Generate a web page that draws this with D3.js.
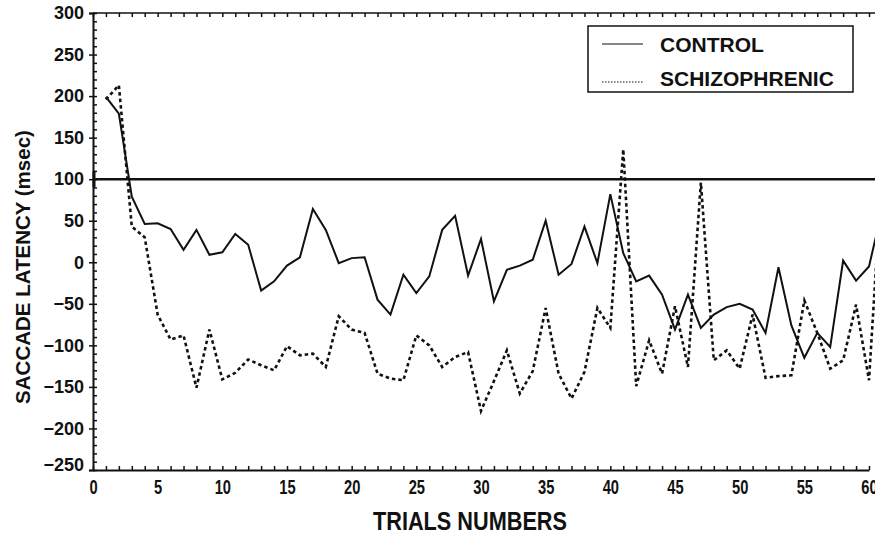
<!DOCTYPE html>
<html>
<head>
<meta charset="utf-8">
<script src="https://cdnjs.cloudflare.com/ajax/libs/d3/7.8.5/d3.min.js"></script>
<style>
  body { margin: 0; background: #fff; }
  svg { display: block; }
  text { fill: #111; font-weight: bold; }
</style>
</head>
<body>
<script>

var trials = d3.range(1, 62);

// trial 61 is only partly visible at the right edge
var control = [199, 179, 79, 46, 47, 40, 15, 39, 9, 12, 34, 21, -34, -23, -4, 6, 64, 39, -1, 5,
               6, -45, -63, -15, -37, -17, 39, 56, -16, 28, -47, -9, -4, 3, 50, -15, -2, 43, -1, 82,
               11, -23, -16, -39, -81, -39, -79, -63, -54, -50, -57, -85, -6, -76, -115, -85, -102, 2, -22, -5,
               62];
var schizo = [196, 213, 43, 30, -63, -93, -88, -151, -81, -141, -133, -117, -124, -130, -101, -112, -110, -126, -65, -81,
              -85, -134, -140, -142, -88, -100, -126, -114, -108, -179, -143, -106, -158, -131, -55, -134, -164, -132, -55, -79,
              136, -149, -94, -134, -53, -126, 96, -118, -106, -128, -63, -139, -137, -136, -46, -85, -128, -118, -51, -142,
              110];

var refLevel = 100;
var xTicks = [0, 5, 10, 15, 20, 25, 30, 35, 40, 45, 50, 55, 60];
var yTicks = [-250, -200, -150, -100, -50, 0, 50, 100, 150, 200, 250, 300];
var seriesNames = ['CONTROL', 'SCHIZOPHRENIC'];

var svgWidth = 875;
var svgHeight = 534;

var svg = d3.select('body').append('svg')
  .attr('width', svgWidth)
  .attr('height', svgHeight);

var x = d3.scaleLinear().domain([0, 60]).range([93, 869]);
var y = d3.scaleLinear().domain([-250, 300]).range([470, 13]);

var ink = '#111';
var font = '"Liberation Sans", Arial, sans-serif';

// minor ticks, every trial on bottom and top, every 10 msec on the left
svg.append('g')
  .attr('transform', 'translate(0,' + y(-250) + ')')
  .call(d3.axisBottom(x).tickValues(d3.range(0, 62)).tickSize(-4).tickFormat(''))
  .call(function (g) { g.select('.domain').remove(); });

svg.append('g')
  .attr('transform', 'translate(0,' + y(300) + ')')
  .call(d3.axisTop(x).tickValues(d3.range(0, 62)).tickSize(-4).tickFormat(''))
  .call(function (g) { g.select('.domain').remove(); });

svg.append('g')
  .attr('transform', 'translate(' + x(0) + ',0)')
  .call(d3.axisLeft(y).tickValues(d3.range(-250, 301, 10)).tickSize(-4).tickFormat(''))
  .call(function (g) { g.select('.domain').remove(); });

// labelled axes
var xAxis = svg.append('g')
  .attr('transform', 'translate(0,' + y(-250) + ')')
  .call(d3.axisBottom(x).tickValues(xTicks).tickSize(0).tickPadding(9));

// the original uses a condensed face, squeeze the glyphs
xAxis.selectAll('text')
  .style('font-family', font)
  .style('font-size', '21px')
  .attr('transform', 'scale(0.7,1)');

var yAxis = svg.append('g')
  .attr('transform', 'translate(' + x(0) + ',0)')
  .call(d3.axisLeft(y).tickValues(yTicks).tickSize(4).tickPadding(5));

yAxis.selectAll('text')
  .style('font-family', font)
  .style('font-size', '18px');

yAxis.selectAll('.tick')
  .filter(function (d) { return d === -250; })
  .select('text').attr('dy', '0.05em');

svg.selectAll('.domain, .tick line')
  .attr('stroke', ink)
  .attr('stroke-width', 1.5);

svg.selectAll('.domain').attr('stroke-width', 2);

// top frame line
svg.append('line')
  .attr('x1', x(0)).attr('x2', svgWidth)
  .attr('y1', y(300)).attr('y2', y(300))
  .attr('stroke', ink)
  .attr('stroke-width', 1.5);

// 100 msec reference
svg.append('line')
  .attr('x1', x(0)).attr('x2', svgWidth)
  .attr('y1', y(refLevel)).attr('y2', y(refLevel))
  .attr('stroke', ink)
  .attr('stroke-width', 2.5);

svg.append('line')
  .attr('x1', x(0) + 1).attr('x2', x(0) + 1)
  .attr('y1', y(refLevel) - 8).attr('y2', y(refLevel) + 8)
  .attr('stroke', ink)
  .attr('stroke-width', 3);

var line = d3.line()
  .x(function (d) { return x(d.t); })
  .y(function (d) { return y(d.v); });

function toPoints(values) {
  return values.map(function (v, i) { return { t: trials[i], v: v }; });
}

svg.append('path')
  .datum(toPoints(schizo))
  .attr('d', line)
  .attr('fill', 'none')
  .attr('stroke', ink)
  .attr('stroke-width', 2.6)
  .attr('stroke-dasharray', '3.5,3');

svg.append('path')
  .datum(toPoints(control))
  .attr('d', line)
  .attr('fill', 'none')
  .attr('stroke', ink)
  .attr('stroke-width', 2);

// legend
var legend = svg.append('g');

legend.append('rect')
  .attr('x', 588).attr('y', 26)
  .attr('width', 265).attr('height', 66)
  .attr('fill', '#fff')
  .attr('stroke', ink)
  .attr('stroke-width', 1.5);

legend.append('line')
  .attr('x1', 602).attr('x2', 643)
  .attr('y1', 44).attr('y2', 44)
  .attr('stroke', ink)
  .attr('stroke-width', 1.2);

legend.append('line')
  .attr('x1', 602).attr('x2', 643)
  .attr('y1', 82).attr('y2', 82)
  .attr('stroke', ink)
  .attr('stroke-width', 1.2)
  .attr('stroke-dasharray', '1.5,1.5');

legend.selectAll('text.leg')
  .data(seriesNames)
  .enter()
  .append('text')
  .attr('class', 'leg')
  .attr('x', 660)
  .attr('y', function (d, i) { return i === 0 ? 52 : 86; })
  .style('font-family', font)
  .style('font-size', '21px')
  .text(function (d) { return d; });

// axis titles
svg.append('text')
  .attr('x', 373)
  .attr('y', 530)
  .attr('textLength', 194)
  .attr('lengthAdjust', 'spacingAndGlyphs')
  .style('font-family', font)
  .style('font-size', '25px')
  .text('TRIALS NUMBERS');

svg.append('text')
  .attr('transform', 'translate(30,267) rotate(-90)')
  .attr('text-anchor', 'middle')
  .style('font-family', font)
  .style('font-size', '20.5px')
  .text('SACCADE LATENCY (msec)');

</script>
</body>
</html>
